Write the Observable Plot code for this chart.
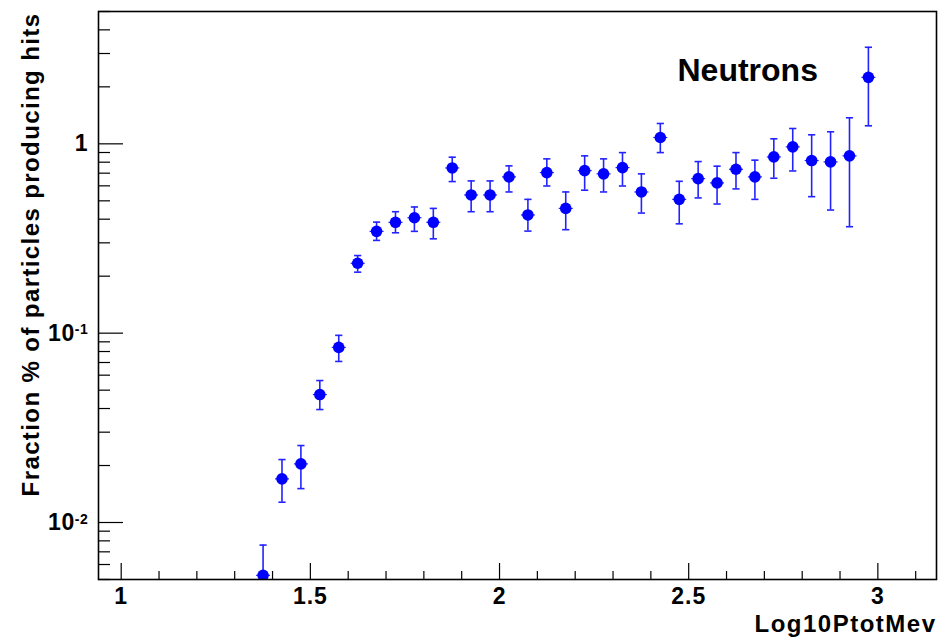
<!DOCTYPE html>
<html>
<head>
<meta charset="utf-8">
<script src="https://cdn.jsdelivr.net/npm/d3@7"></script>
<script src="https://cdn.jsdelivr.net/npm/@observablehq/plot@0.6"></script>
<style>
  html, body { margin: 0; padding: 0; background: white; overflow: hidden; }
  #chart svg { display: block; }
</style>
</head>
<body>
<div id="chart"></div>
<script>
// ---- data ----
const binCenters = [1.375, 1.425, 1.475, 1.525, 1.575, 1.625, 1.675, 1.725, 1.775, 1.825,
  1.875, 1.925, 1.975, 2.025, 2.075, 2.125, 2.175, 2.225, 2.275, 2.325,
  2.375, 2.425, 2.475, 2.525, 2.575, 2.625, 2.675, 2.725, 2.775, 2.825,
  2.875, 2.925, 2.975];
const fractionValues = [0.00526, 0.0170, 0.0204, 0.0474, 0.0841, 0.234, 0.345, 0.385, 0.407, 0.385,
  0.746, 0.537, 0.537, 0.669, 0.421, 0.705, 0.456, 0.722, 0.694, 0.749,
  0.557, 1.080, 0.509, 0.655, 0.622, 0.734, 0.669, 0.853, 0.964, 0.816,
  0.803, 0.864, 2.245];
const errLow = [0.0029, 0.0128, 0.0151, 0.0395, 0.0709, 0.210, 0.309, 0.339, 0.345, 0.315,
  0.632, 0.438, 0.438, 0.557, 0.346, 0.599, 0.352, 0.569, 0.557, 0.599,
  0.431, 0.899, 0.378, 0.518, 0.481, 0.578, 0.509, 0.658, 0.719, 0.526,
  0.447, 0.365, 1.245];
const errHigh = [0.0076, 0.0215, 0.0255, 0.0562, 0.0974, 0.257, 0.386, 0.438, 0.464, 0.456,
  0.850, 0.637, 0.637, 0.765, 0.509, 0.833, 0.557, 0.864, 0.833, 0.899,
  0.694, 1.281, 0.634, 0.806, 0.762, 0.899, 0.820, 1.063, 1.205, 1.116,
  1.158, 1.373, 3.236];

const xMajorTicks = [1, 1.5, 2, 2.5, 3];
const xMajorLabels = ["1", "1.5", "2", "2.5", "3"];
const xMinorTicks = [1.1, 1.2, 1.3, 1.4, 1.6, 1.7, 1.8, 1.9, 2.1, 2.2, 2.3, 2.4,
  2.6, 2.7, 2.8, 2.9, 3.1];
const yMajorTicks = [0.01, 0.1, 1];
const yMajorLabels = ["10^-2", "10^-1", "1"];
const yMinorTicks = [0.005, 0.006, 0.007, 0.008, 0.009,
  0.02, 0.03, 0.04, 0.05, 0.06, 0.07, 0.08, 0.09,
  0.2, 0.3, 0.4, 0.5, 0.6, 0.7, 0.8, 0.9,
  2, 3, 4, 5];
const xTitle = "Log10PtotMev";
const yTitle = "Fraction % of particles producing hits";
const histTitle = "Neutrons";

// ---- layout ----
const W = 938, H = 638;
const mL = 98, mT = 11, mR = 2, mB = 59;
const plotW = W - mL - mR, plotH = H - mT - mB;
const blue = "#0000ff";
const barBlue = "#2323ff";
const font = "Liberation Sans, Arial, Helvetica, sans-serif";

const rows = binCenters.map((x, i) => ({x, v: fractionValues[i], lo: errLow[i], hi: errHigh[i]}));
const xLabelRows = xMajorTicks.map((x, i) => ({x, label: xMajorLabels[i]}));
const yLabelRows = yMajorTicks.map((y, i) => ({y, label: yMajorLabels[i]}));

const cap = {
  draw(ctx, size) {
    const w = Math.sqrt(size / Math.PI);
    ctx.moveTo(-w, 0);
    ctx.lineTo(w, 0);
  }
};

const chart = Plot.plot({
  width: W,
  height: H,
  marginLeft: mL, marginTop: mT, marginRight: mR, marginBottom: mB,
  style: {fontFamily: font, fontWeight: "bold", background: "white"},
  x: {domain: [0.94, 3.155], axis: null},
  y: {type: "log", domain: [0.005, 5], axis: null},
  marks: [
    // ticks (drawn inward, ROOT style)
    Plot.ruleX(xMajorTicks, {x: d => d, insetTop: plotH - 16, stroke: "black", strokeWidth: 1.2}),
    Plot.ruleX(xMinorTicks, {x: d => d, insetTop: plotH - 8, stroke: "black", strokeWidth: 1.2}),
    Plot.ruleY(yMajorTicks, {y: d => d, insetRight: plotW - 25, stroke: "black", strokeWidth: 1.2}),
    Plot.ruleY(yMinorTicks, {y: d => d, insetRight: plotW - 12, stroke: "black", strokeWidth: 1.2}),
    // tick labels
    Plot.text(xLabelRows, {x: "x", text: "label", frameAnchor: "bottom", lineAnchor: "top",
      dy: 8, fontSize: 23, fontWeight: "bold", fontFamily: font, fill: "black"}),
    Plot.text(yLabelRows, {y: "y", text: "label", frameAnchor: "left", textAnchor: "end",
      dx: -10, fontSize: 23, fontWeight: "bold", fontFamily: font, fill: "black"}),
    // error bars
    Plot.ruleX(rows, {x: "x", y1: "lo", y2: "hi", stroke: barBlue, strokeWidth: 1.6, clip: true}),
    Plot.dot(rows, {x: "x", y: "hi", symbol: cap, r: 3.6, stroke: barBlue, fill: "none", strokeWidth: 1.6, clip: true}),
    Plot.dot(rows, {x: "x", y: "lo", symbol: cap, r: 3.6, stroke: barBlue, fill: "none", strokeWidth: 1.6, clip: true}),
    // markers
    Plot.dot(rows, {x: "x", y: "v", symbol: cap, r: 7, stroke: barBlue, fill: "none", strokeWidth: 1.2, clip: true}),
    Plot.dot(rows, {x: "x", y: "v", r: 5.8, fill: blue, stroke: "none", clip: true}),
    // frame
    Plot.frame({stroke: "black", strokeWidth: 1.6}),
    // titles
    Plot.text([xTitle], {frameAnchor: "bottom-right", textAnchor: "end", lineAnchor: "bottom",
      dx: 0, dy: 52, fontSize: 24, fontWeight: "bold", fontFamily: font, fill: "black"}),
    Plot.text([yTitle], {frameAnchor: "top-left", rotate: -90, textAnchor: "end", lineAnchor: "bottom",
      dx: -60, dy: 1, fontSize: 24, fontWeight: "bold", fontFamily: font, fill: "black"}),
    Plot.text([histTitle], {frameAnchor: "top-left", textAnchor: "start", lineAnchor: "bottom",
      dx: 579, dy: 69, fontSize: 32, fontWeight: "bold", fontFamily: font, fill: "black"})
  ]
});

const svg = d3.select(chart);
svg.selectAll("text").each(function () {
  const sel = d3.select(this);
  const t = this.textContent;
  const m = t.match(/^10\^(-?\d+)$/);
  if (m) {
    sel.text("10");
    sel.append("tspan").attr("dy", "-0.45em").attr("font-size", "14px").text(m[1]);
    sel.style("letter-spacing", "0.6px");
  } else if (xMajorLabels.includes(t)) {
    sel.style("letter-spacing", "1px");
  } else if (t === xTitle) {
    sel.style("letter-spacing", "1.5px");
  } else if (t === yTitle) {
    sel.style("letter-spacing", "1.4px");
  }
});

document.getElementById("chart").appendChild(chart);
</script>
</body>
</html>
